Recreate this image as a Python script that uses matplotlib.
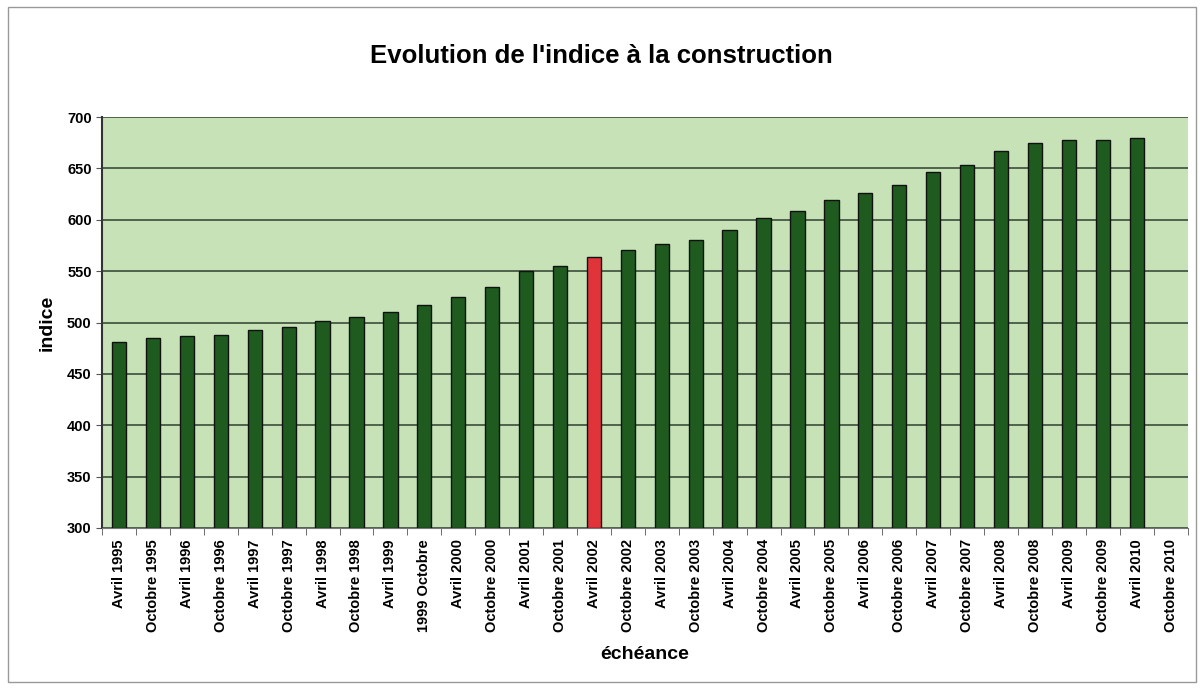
import numpy as np
import matplotlib.pyplot as plt
from matplotlib.patches import Rectangle

plt.rcParams['font.family'] = ['Liberation Sans', 'DejaVu Sans']

# donnees
echeances = ['Avril 1995', 'Octobre 1995', 'Avril 1996', 'Octobre 1996', 'Avril 1997',
             'Octobre 1997', 'Avril 1998', 'Octobre 1998', 'Avril 1999', '1999 Octobre',
             'Avril 2000', 'Octobre 2000', 'Avril 2001', 'Octobre 2001', 'Avril 2002',
             'Octobre 2002', 'Avril 2003', 'Octobre 2003', 'Avril 2004', 'Octobre 2004',
             'Avril 2005', 'Octobre 2005', 'Avril 2006', 'Octobre 2006', 'Avril 2007',
             'Octobre 2007', 'Avril 2008', 'Octobre 2008', 'Avril 2009', 'Octobre 2009',
             'Avril 2010', 'Octobre 2010']
indice = [481, 485, 486.5, 488, 492.7, 495.6, 501.5, 505, 510.6, 517.5,
          525, 535, 550.4, 555, 564, 570.3, 576.5, 580.6, 590, 601.4,
          608.5, 619.2, 626.3, 633.8, 646.5, 653, 667, 674.4, 677.3, 677.6,
          679.6, np.nan]
surligne = 'Avril 2002'

couleurs = ['#e0343a' if e == surligne else '#1f5a1f' for e in echeances]

fig = plt.figure(figsize=(12.02, 6.89), dpi=100)
ax = fig.add_axes([0.0849, 0.2337, 0.9031, 0.5963])
ax.set_facecolor('#c6e2b6')

x = np.arange(len(echeances))
ax.bar(x, np.array(indice) - 300, bottom=300, width=0.42, color=couleurs,
       edgecolor='#111111', linewidth=1.0, zorder=3)

ax.set_xlim(-0.5, len(echeances) - 0.5)
ax.set_ylim(300, 700)
ax.set_yticks(np.arange(300, 701, 50))
ax.yaxis.grid(True, color='#2f3f2f', linewidth=1.1, zorder=1)
ax.set_axisbelow(True)

ax.set_xticks(x)
ax.set_xticklabels(echeances, rotation=90, fontsize=10.5, fontweight='bold')
ax.tick_params(axis='x', which='major', length=0, pad=8)
ax.set_xticks(np.arange(-0.5, len(echeances)), minor=True)
ax.tick_params(axis='x', which='minor', length=5, color='#555555')
ax.tick_params(axis='y', labelsize=10.5, length=4, color='#555555')
for lab in ax.get_yticklabels():
    lab.set_fontweight('bold')

for s in ['top', 'right']:
    ax.spines[s].set_visible(False)
ax.spines['left'].set_color('#333333')
ax.spines['bottom'].set_color('#777777')
ax.spines['left'].set_linewidth(1.5)

ax.set_ylabel('indice', fontsize=14, fontweight='bold', labelpad=8)
ax.set_xlabel('échéance', fontsize=14, fontweight='bold', labelpad=10)
fig.text(0.5, 0.918, "Evolution de l'indice à la construction", ha='center', va='center',
         fontsize=18.5, fontweight='bold')

# cadre exterieur
fig.patches.append(Rectangle((0.007, 0.01), 0.988, 0.98, transform=fig.transFigure,
                             fill=False, edgecolor='#999999', linewidth=1.0))

fig.savefig('out.png', dpi=100)
